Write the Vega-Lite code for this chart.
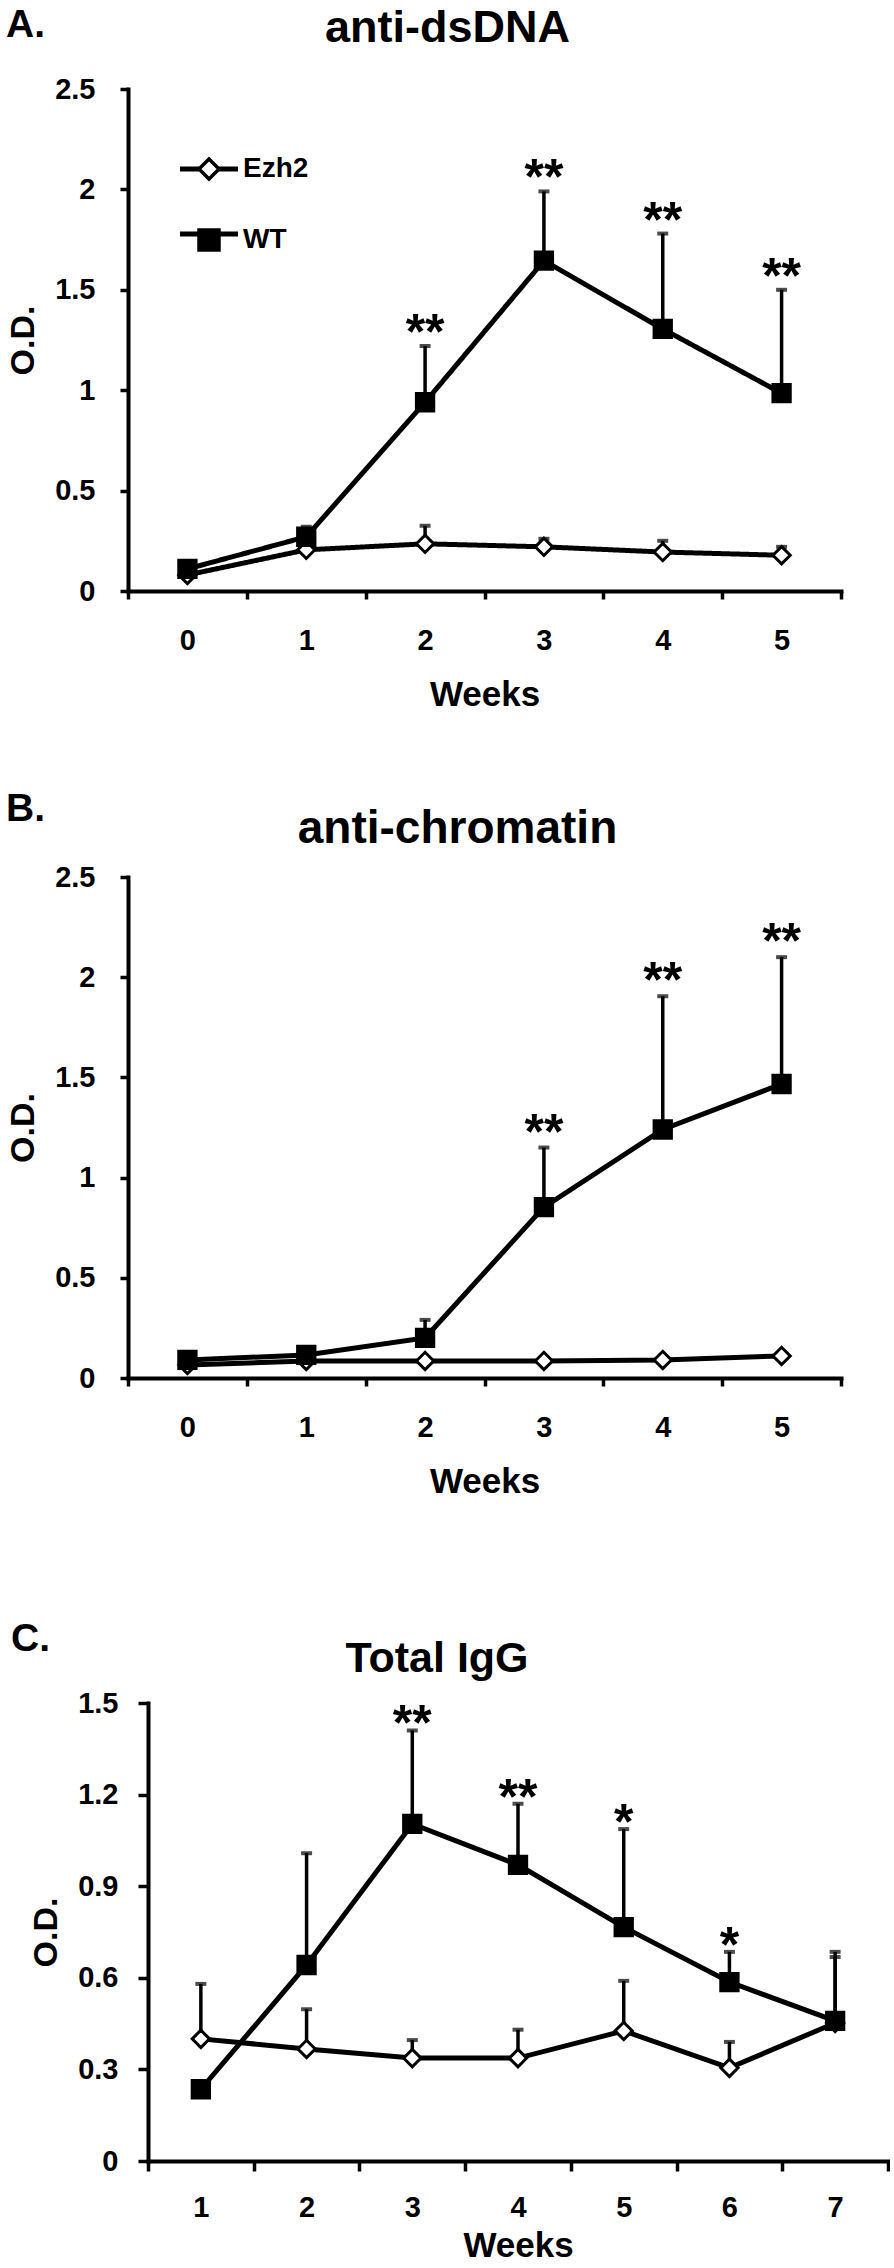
{
  "$schema": "https://vega.github.io/schema/vega-lite/v6.json",
  "background": "white",
  "padding": {"left": 5, "top": 6, "right": 0, "bottom": 0},
  "config": {
    "font": "Liberation Sans",
    "view": {"stroke": null},
    "axis": {
      "domainColor": "black", "domainWidth": 4, "domainCap": "square",
      "tickColor": "black", "tickWidth": 3.5, "tickSize": 8,
      "labelFont": "Liberation Sans", "labelFontWeight": "bold", "labelFontSize": 29, "labelColor": "black",
      "titleFont": "Liberation Sans", "titleFontWeight": "bold", "titleFontSize": 34, "titleColor": "black",
      "grid": false, "labelOverlap": false, "labelFlush": false
    },
    "axisX": {"labelAngle": 0, "titleFontSize": 35},
    "title": {"font": "Liberation Sans", "fontWeight": "bold", "color": "black", "baseline": "alphabetic"}
  },
  "datasets": {
    "dsdna": [
      {"week": 0, "group": "Ezh2", "od": 0.08, "upper": 0.09, "sig": ""},
      {"week": 1, "group": "Ezh2", "od": 0.205, "upper": 0.23, "sig": ""},
      {"week": 2, "group": "Ezh2", "od": 0.235, "upper": 0.325, "sig": ""},
      {"week": 3, "group": "Ezh2", "od": 0.22, "upper": 0.26, "sig": ""},
      {"week": 4, "group": "Ezh2", "od": 0.194, "upper": 0.25, "sig": ""},
      {"week": 5, "group": "Ezh2", "od": 0.178, "upper": 0.22, "sig": ""},
      {"week": 0, "group": "WT", "od": 0.11, "upper": 0.12, "sig": ""},
      {"week": 1, "group": "WT", "od": 0.27, "upper": 0.32, "sig": ""},
      {"week": 2, "group": "WT", "od": 0.94, "upper": 1.22, "sig": "**"},
      {"week": 3, "group": "WT", "od": 1.645, "upper": 1.99, "sig": "**"},
      {"week": 4, "group": "WT", "od": 1.305, "upper": 1.78, "sig": "**"},
      {"week": 5, "group": "WT", "od": 0.985, "upper": 1.5, "sig": "**"}
    ],
    "chromatin": [
      {"week": 0, "group": "Ezh2", "od": 0.065, "upper": 0.07, "sig": ""},
      {"week": 1, "group": "Ezh2", "od": 0.085, "upper": 0.09, "sig": ""},
      {"week": 2, "group": "Ezh2", "od": 0.085, "upper": 0.09, "sig": ""},
      {"week": 3, "group": "Ezh2", "od": 0.085, "upper": 0.09, "sig": ""},
      {"week": 4, "group": "Ezh2", "od": 0.09, "upper": 0.095, "sig": ""},
      {"week": 5, "group": "Ezh2", "od": 0.11, "upper": 0.115, "sig": ""},
      {"week": 0, "group": "WT", "od": 0.09, "upper": 0.1, "sig": ""},
      {"week": 1, "group": "WT", "od": 0.115, "upper": 0.13, "sig": ""},
      {"week": 2, "group": "WT", "od": 0.2, "upper": 0.29, "sig": ""},
      {"week": 3, "group": "WT", "od": 0.853, "upper": 1.15, "sig": "**"},
      {"week": 4, "group": "WT", "od": 1.24, "upper": 1.905, "sig": "**"},
      {"week": 5, "group": "WT", "od": 1.467, "upper": 2.1, "sig": "**"}
    ],
    "igg": [
      {"week": 1, "group": "Ezh2", "od": 0.4, "upper": 0.58, "sig": ""},
      {"week": 2, "group": "Ezh2", "od": 0.367, "upper": 0.497, "sig": ""},
      {"week": 3, "group": "Ezh2", "od": 0.337, "upper": 0.396, "sig": ""},
      {"week": 4, "group": "Ezh2", "od": 0.337, "upper": 0.43, "sig": ""},
      {"week": 5, "group": "Ezh2", "od": 0.426, "upper": 0.59, "sig": ""},
      {"week": 6, "group": "Ezh2", "od": 0.305, "upper": 0.39, "sig": ""},
      {"week": 7, "group": "Ezh2", "od": 0.452, "upper": 0.668, "sig": ""},
      {"week": 1, "group": "WT", "od": 0.235, "upper": 0.235, "sig": ""},
      {"week": 2, "group": "WT", "od": 0.642, "upper": 1.008, "sig": ""},
      {"week": 3, "group": "WT", "od": 1.104, "upper": 1.41, "sig": "**"},
      {"week": 4, "group": "WT", "od": 0.97, "upper": 1.17, "sig": "**"},
      {"week": 5, "group": "WT", "od": 0.766, "upper": 1.087, "sig": "*"},
      {"week": 6, "group": "WT", "od": 0.586, "upper": 0.685, "sig": "*"},
      {"week": 7, "group": "WT", "od": 0.459, "upper": 0.685, "sig": ""}
    ]
  },
  "spacing": 121,
  "vconcat": [
    {
      "spacing": 78,
      "vconcat": [
        {
          "title": {"text": "A.", "anchor": "start", "fontSize": 39, "offset": -39, "dx": 1},
          "spacing": 0,
          "hconcat": [
            {"width": 1, "height": 1, "data": {"values": []}, "mark": {"type": "point", "opacity": 0}},
            {
              "data": {"name": "dsdna"},
              "width": 713, "height": 502,
              "title": {"text": "anti-dsDNA", "anchor": "middle", "frame": "group", "fontSize": 45, "offset": 24, "dx": -37},
              "encoding": {
                "x": {"field": "week", "type": "ordinal", "scale": {"type": "band", "paddingInner": 0, "paddingOuter": 0},
                      "axis": {"title": "Weeks", "tickBand": "extent", "labelPadding": 27, "titlePadding": 22}}
              },
              "layer": [
                {"mark": {"type": "line", "color": "black", "strokeWidth": 5},
                 "encoding": {
                   "y": {"field": "od", "type": "quantitative", "scale": {"domain": [0, 2.5], "nice": false},
                         "axis": {"title": "O.D.", "values": [0, 0.5, 1, 1.5, 2, 2.5], "format": "~g", "labelPadding": 25, "titlePadding": 14}},
                   "detail": {"field": "group"},
                   "strokeDash": {"field": "group", "type": "nominal", "scale": {"domain": ["Ezh2", "WT"], "range": [[1, 0], [1, 0]]},
                     "legend": {"title": null, "orient": "none", "legendX": 190, "legendY": 66, "padding": 0,
                       "symbolType": "M-2.9,0L-1,0M1,0L2.9,0", "symbolSize": 400, "symbolStrokeWidth": 5, "symbolStrokeColor": "black",
                       "labelFont": "Liberation Sans", "labelFontSize": 28, "labelFontWeight": "bold", "labelExpr": "' '", "labelOffset": 20, "rowPadding": 37}}}},
                {"mark": {"type": "rule", "color": "black", "strokeWidth": 3.5},
                 "encoding": {"y": {"field": "od", "type": "quantitative"}, "y2": {"field": "upper"}}},
                {"mark": {"type": "tick", "color": "black", "thickness": 4, "size": 11},
                 "encoding": {"y": {"field": "upper", "type": "quantitative"}}},
                {"mark": {"type": "point", "filled": true, "stroke": "black", "strokeWidth": 3, "size": 300, "opacity": 1},
                 "encoding": {
                   "y": {"field": "od", "type": "quantitative"},
                   "shape": {"field": "group", "type": "nominal", "scale": {"range": ["diamond", "square"]},
                     "legend": {"title": null, "orient": "none", "legendX": 190, "legendY": 66, "padding": 0, "symbolSize": 400, "symbolStrokeWidth": 3.5, "symbolStrokeColor": "black",
                       "labelFont": "Liberation Sans", "labelFontSize": 28, "labelFontWeight": "bold", "labelColor": "black", "labelOffset": 20, "rowPadding": 37}},
                   "color": {"field": "group", "type": "nominal", "scale": {"range": ["white", "black"]},
                     "legend": {"title": null, "orient": "none", "legendX": 190, "legendY": 66, "padding": 0, "symbolSize": 400, "symbolStrokeWidth": 3.5, "symbolStrokeColor": "black",
                       "labelFont": "Liberation Sans", "labelFontSize": 28, "labelFontWeight": "bold", "labelColor": "black", "labelOffset": 20, "rowPadding": 37}}
                 }},
                {"transform": [{"filter": "datum.sig != ''"}],
                 "mark": {"type": "text", "fontSize": 50, "fontWeight": "bold", "font": "Liberation Sans", "baseline": "alphabetic", "dy": 3, "color": "black"},
                 "encoding": {"y": {"field": "upper", "type": "quantitative"}, "text": {"field": "sig"}}}
              ]
            }
          ]
        },
        {
          "title": {"text": "B.", "anchor": "start", "fontSize": 39, "offset": -23, "dx": 1},
          "spacing": 0,
          "hconcat": [
            {"width": 1, "height": 1, "data": {"values": []}, "mark": {"type": "point", "opacity": 0}},
            {
              "data": {"name": "chromatin"},
              "width": 713, "height": 501,
              "title": {"text": "anti-chromatin", "anchor": "middle", "frame": "group", "fontSize": 46, "offset": 10, "dx": -27},
              "encoding": {
                "x": {"field": "week", "type": "ordinal", "scale": {"type": "band", "paddingInner": 0, "paddingOuter": 0},
                      "axis": {"title": "Weeks", "tickBand": "extent", "labelPadding": 27, "titlePadding": 22}}
              },
              "layer": [
                {"mark": {"type": "line", "color": "black", "strokeWidth": 5},
                 "encoding": {
                   "y": {"field": "od", "type": "quantitative", "scale": {"domain": [0, 2.5], "nice": false},
                         "axis": {"title": "O.D.", "values": [0, 0.5, 1, 1.5, 2, 2.5], "format": "~g", "labelPadding": 25, "titlePadding": 14}},
                   "detail": {"field": "group"}}},
                {"mark": {"type": "rule", "color": "black", "strokeWidth": 3.5},
                 "encoding": {"y": {"field": "od", "type": "quantitative"}, "y2": {"field": "upper"}}},
                {"mark": {"type": "tick", "color": "black", "thickness": 4, "size": 11},
                 "encoding": {"y": {"field": "upper", "type": "quantitative"}}},
                {"mark": {"type": "point", "filled": true, "stroke": "black", "strokeWidth": 3, "size": 300, "opacity": 1},
                 "encoding": {
                   "y": {"field": "od", "type": "quantitative"},
                   "shape": {"field": "group", "type": "nominal", "scale": {"range": ["diamond", "square"]}, "legend": null},
                   "color": {"field": "group", "type": "nominal", "scale": {"range": ["white", "black"]}, "legend": null}
                 }},
                {"transform": [{"filter": "datum.sig != ''"}],
                 "mark": {"type": "text", "fontSize": 50, "fontWeight": "bold", "font": "Liberation Sans", "baseline": "alphabetic", "dy": 1, "color": "black"},
                 "encoding": {"y": {"field": "upper", "type": "quantitative"}, "text": {"field": "sig"}}}
              ]
            }
          ]
        }
      ]
    },
    {
      "title": {"text": "C.", "anchor": "start", "fontSize": 39, "offset": -21, "dx": 6},
      "spacing": 0,
      "hconcat": [
        {"width": 24, "height": 1, "data": {"values": []}, "mark": {"type": "point", "opacity": 0}},
        {
          "data": {"name": "igg"},
          "width": 740, "height": 458,
          "title": {"text": "Total IgG", "anchor": "middle", "frame": "group", "fontSize": 43, "offset": 8, "dx": -81},
          "encoding": {
            "x": {"field": "week", "type": "ordinal", "scale": {"type": "band", "paddingInner": 0, "paddingOuter": 0},
                  "axis": {"title": "Weeks", "tickBand": "extent", "tickSize": 10, "labelPadding": 22, "titlePadding": 6}}
          },
          "layer": [
            {"mark": {"type": "line", "color": "black", "strokeWidth": 5},
             "encoding": {
               "y": {"field": "od", "type": "quantitative", "scale": {"domain": [0, 1.5], "nice": false},
                     "axis": {"title": "O.D.", "values": [0, 0.3, 0.6, 0.9, 1.2, 1.5], "format": "~g", "tickSize": 10, "labelPadding": 20, "titlePadding": 12, "titleX": -85}},
               "detail": {"field": "group"}}},
            {"mark": {"type": "rule", "color": "black", "strokeWidth": 3.5},
             "encoding": {"y": {"field": "od", "type": "quantitative"}, "y2": {"field": "upper"}}},
            {"mark": {"type": "tick", "color": "black", "thickness": 4, "size": 11},
             "encoding": {"y": {"field": "upper", "type": "quantitative"}}},
            {"mark": {"type": "point", "filled": true, "stroke": "black", "strokeWidth": 3, "size": 300, "opacity": 1},
             "encoding": {
               "y": {"field": "od", "type": "quantitative"},
               "shape": {"field": "group", "type": "nominal", "scale": {"range": ["diamond", "square"]}, "legend": null},
               "color": {"field": "group", "type": "nominal", "scale": {"range": ["white", "black"]}, "legend": null}
             }},
            {"transform": [{"filter": "datum.sig != ''"}],
             "mark": {"type": "text", "fontSize": 50, "fontWeight": "bold", "font": "Liberation Sans", "baseline": "alphabetic", "dy": 10, "color": "black"},
             "encoding": {"y": {"field": "upper", "type": "quantitative"}, "text": {"field": "sig"}}}
          ]
        }
      ]
    }
  ]
}
